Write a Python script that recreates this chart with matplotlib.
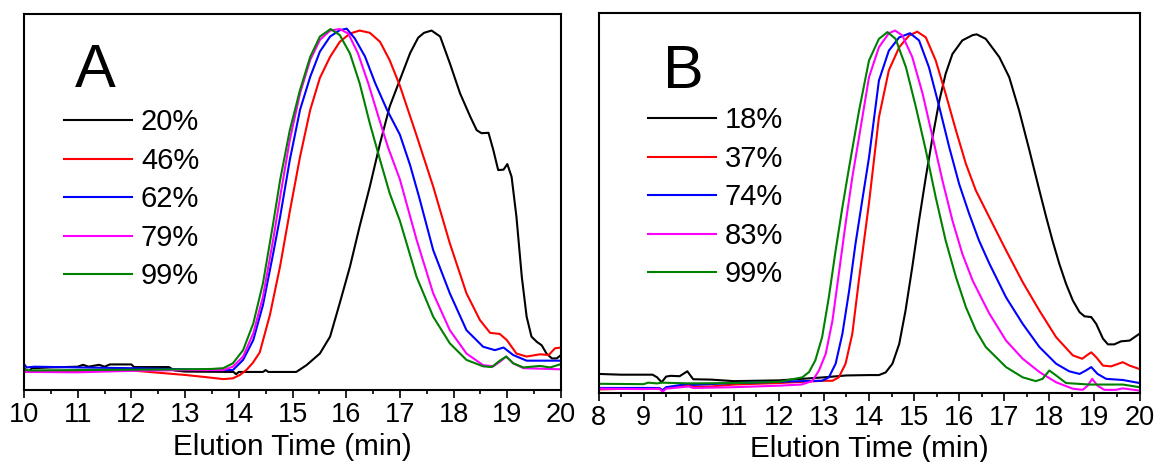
import matplotlib
matplotlib.use("Agg")
import matplotlib.pyplot as plt
from matplotlib.ticker import MultipleLocator

plt.rcParams['font.family'] = ['Liberation Sans', 'DejaVu Sans']

# ---------------- Panel A data (elution time in min, normalized intensity) ----------------
A_labels = ["20%", "46%", "62%", "79%", "99%"]

A_t_20 = [10.0, 10.08, 10.15, 10.5, 11.0, 11.1, 11.2, 11.4, 11.5, 11.6, 12.0, 12.05, 12.7, 12.8, 13.0,
          13.9, 13.95, 14.0, 14.45, 14.5, 14.55, 15.07, 15.26, 15.51, 15.70, 15.88, 16.07, 16.25, 16.44,
          16.63, 16.81, 17.00, 17.19, 17.34, 17.45, 17.59, 17.75, 17.93, 18.12, 18.31, 18.43, 18.52,
          18.65, 18.74, 18.83, 18.93, 19.00, 19.08, 19.17, 19.27, 19.36, 19.45, 19.55, 19.64, 19.73,
          19.83, 19.92, 20.0]
A_v_20 = [0.058, 0.048, 0.058, 0.060, 0.062, 0.067, 0.062, 0.067, 0.062, 0.068, 0.068, 0.061, 0.061,
          0.052, 0.049, 0.048, 0.042, 0.048, 0.048, 0.053, 0.048, 0.048, 0.066, 0.097, 0.142, 0.231,
          0.328, 0.435, 0.541, 0.656, 0.754, 0.825, 0.896, 0.937, 0.950, 0.956, 0.940, 0.869, 0.789,
          0.727, 0.691, 0.683, 0.684, 0.638, 0.585, 0.586, 0.601, 0.567, 0.461, 0.301, 0.195, 0.142,
          0.128, 0.119, 0.097, 0.084, 0.084, 0.093]

A_t_46 = [10.0, 11.0, 12.0, 12.5, 13.0, 13.4, 13.71, 13.89, 14.02, 14.14, 14.26, 14.39, 14.58, 14.77,
          14.95, 15.14, 15.33, 15.51, 15.70, 15.88, 16.07, 16.25, 16.44, 16.63, 16.81, 17.00, 17.31,
          17.62, 17.93, 18.24, 18.49, 18.68, 18.86, 18.99, 19.17, 19.36, 19.61, 19.77, 19.89, 20.0]
A_v_46 = [0.048, 0.050, 0.052, 0.046, 0.040, 0.034, 0.029, 0.031, 0.040, 0.053, 0.072, 0.100, 0.200,
          0.330, 0.475, 0.620, 0.745, 0.830, 0.886, 0.926, 0.948, 0.956, 0.950, 0.926, 0.877, 0.809,
          0.677, 0.541, 0.390, 0.257, 0.186, 0.152, 0.149, 0.133, 0.097, 0.089, 0.095, 0.093, 0.111,
          0.113]

A_t_62 = [10.0, 10.05, 10.2, 11.0, 12.0, 13.0, 13.5, 13.89, 14.08, 14.27, 14.45, 14.64, 14.77, 14.95,
          15.14, 15.33, 15.51, 15.70, 15.88, 16.01, 16.16, 16.35, 16.54, 16.76, 17.00, 17.19, 17.36,
          17.62, 17.93, 18.24, 18.55, 18.77, 18.93, 19.11, 19.36, 20.0]
A_v_62 = [0.069, 0.060, 0.062, 0.060, 0.058, 0.055, 0.053, 0.053, 0.080, 0.133, 0.226, 0.363, 0.461,
          0.612, 0.745, 0.833, 0.900, 0.940, 0.957, 0.961, 0.935, 0.887, 0.816, 0.745, 0.679, 0.598,
          0.512, 0.372, 0.257, 0.159, 0.115, 0.106, 0.113, 0.093, 0.078, 0.078]

A_t_79 = [10.0, 10.05, 11.0, 12.0, 13.0, 13.5, 13.71, 13.89, 14.08, 14.27, 14.45, 14.64, 14.77, 14.95,
          15.14, 15.33, 15.51, 15.70, 15.88, 16.04, 16.22, 16.41, 16.60, 16.78, 17.00, 17.31, 17.62,
          17.93, 18.24, 18.55, 18.74, 18.86, 18.98, 19.11, 19.30, 20.0]
A_v_79 = [0.055, 0.048, 0.047, 0.051, 0.053, 0.053, 0.053, 0.062, 0.089, 0.151, 0.248, 0.400, 0.514,
          0.665, 0.789, 0.878, 0.931, 0.956, 0.960, 0.948, 0.895, 0.816, 0.727, 0.645, 0.560, 0.400,
          0.257, 0.159, 0.097, 0.066, 0.063, 0.075, 0.089, 0.071, 0.058, 0.055]

A_t_99 = [10.0, 10.1, 11.0, 12.0, 13.0, 13.5, 13.71, 13.89, 14.08, 14.27, 14.45, 14.64, 14.77, 14.95,
          15.14, 15.33, 15.51, 15.71, 15.88, 16.07, 16.25, 16.44, 16.63, 16.81, 17.00, 17.31, 17.62,
          17.93, 18.24, 18.55, 18.71, 18.86, 18.98, 19.11, 19.30, 19.61, 19.80, 20.0]
A_v_99 = [0.055, 0.052, 0.053, 0.054, 0.055, 0.056, 0.058, 0.071, 0.106, 0.177, 0.284, 0.443, 0.559,
          0.691, 0.798, 0.886, 0.940, 0.960, 0.944, 0.895, 0.816, 0.709, 0.612, 0.523, 0.450, 0.301,
          0.195, 0.124, 0.080, 0.063, 0.061, 0.078, 0.089, 0.071, 0.060, 0.064, 0.060, 0.069]

# ---------------- Panel B data ----------------
B_labels = ["18%", "37%", "74%", "83%", "99%"]

B_t_18 = [8.0, 8.5, 9.0, 9.2, 9.3, 9.4, 9.5, 9.6, 9.8, 9.97, 10.1, 10.5, 11.0, 12.0, 12.5, 13.0, 13.5,
          14.0, 14.22, 14.37, 14.52, 14.67, 14.81, 14.96, 15.11, 15.26, 15.41, 15.56, 15.70, 15.85,
          16.07, 16.30, 16.39, 16.59, 16.89, 17.11, 17.33, 17.56, 17.78, 17.93, 18.07, 18.22, 18.37,
          18.52, 18.67, 18.78, 18.93, 19.04, 19.19, 19.30, 19.44, 19.59, 19.78, 20.0]
B_v_18 = [0.049, 0.047, 0.047, 0.047, 0.040, 0.027, 0.042, 0.044, 0.043, 0.056, 0.035, 0.034, 0.030,
          0.032, 0.036, 0.040, 0.045, 0.046, 0.046, 0.053, 0.076, 0.128, 0.216, 0.331, 0.454, 0.568,
          0.674, 0.770, 0.841, 0.893, 0.929, 0.943, 0.945, 0.933, 0.885, 0.832, 0.744, 0.638, 0.533,
          0.463, 0.401, 0.340, 0.287, 0.243, 0.212, 0.201, 0.199, 0.181, 0.142, 0.127, 0.127, 0.135,
          0.137, 0.155]

B_t_37 = [8.0, 9.0, 9.35, 9.42, 9.5, 10.0, 10.1, 10.5, 11.0, 12.0, 12.5, 13.0, 13.19, 13.33, 13.48,
          13.63, 13.78, 14.0, 14.22, 14.44, 14.67, 14.89, 15.07, 15.26, 15.48, 15.70, 15.93, 16.15,
          16.37, 16.67, 17.04, 17.41, 17.78, 18.15, 18.52, 18.73, 18.83, 18.93, 19.04, 19.19, 19.37,
          19.63, 19.78, 20.0]
B_v_37 = [0.008, 0.011, 0.010, 0.004, 0.012, 0.019, 0.015, 0.016, 0.021, 0.025, 0.028, 0.031, 0.031,
          0.040, 0.076, 0.155, 0.300, 0.500, 0.726, 0.850, 0.911, 0.942, 0.952, 0.937, 0.876, 0.788,
          0.691, 0.603, 0.533, 0.462, 0.375, 0.291, 0.216, 0.146, 0.098, 0.089, 0.098, 0.106, 0.093,
          0.071, 0.069, 0.080, 0.071, 0.062]

B_t_74 = [8.0, 9.0, 9.35, 9.42, 9.5, 10.0, 10.1, 11.0, 12.0, 12.5, 12.96, 13.11, 13.26, 13.41, 13.56,
          13.70, 13.85, 14.0, 14.22, 14.44, 14.67, 14.91, 15.11, 15.33, 15.56, 15.78, 16.0, 16.22,
          16.44, 16.67, 17.04, 17.41, 17.78, 18.15, 18.44, 18.67, 18.81, 18.93, 19.07, 19.26, 19.63,
          20.0]
B_v_74 = [0.012, 0.012, 0.012, 0.006, 0.014, 0.023, 0.020, 0.025, 0.028, 0.030, 0.031, 0.040, 0.076,
          0.155, 0.269, 0.392, 0.507, 0.620, 0.823, 0.902, 0.937, 0.948, 0.929, 0.858, 0.753, 0.647,
          0.550, 0.472, 0.401, 0.340, 0.251, 0.181, 0.120, 0.076, 0.056, 0.049, 0.058, 0.067, 0.049,
          0.036, 0.033, 0.025]

B_t_83 = [8.0, 9.0, 9.35, 9.42, 9.5, 10.0, 10.1, 11.0, 12.0, 12.5, 12.74, 12.89, 13.04, 13.19, 13.33,
          13.48, 13.63, 13.78, 14.0, 14.22, 14.44, 14.58, 14.74, 14.96, 15.19, 15.41, 15.63, 15.85,
          16.07, 16.30, 16.52, 16.67, 17.04, 17.41, 17.78, 18.15, 18.52, 18.74, 18.85, 18.95, 19.07,
          19.22, 19.48, 19.63, 20.0]
B_v_83 = [0.010, 0.009, 0.010, 0.002, 0.010, 0.016, 0.012, 0.014, 0.018, 0.021, 0.030, 0.058, 0.102,
          0.190, 0.313, 0.445, 0.568, 0.674, 0.832, 0.911, 0.948, 0.955, 0.942, 0.885, 0.788, 0.674,
          0.559, 0.454, 0.366, 0.295, 0.243, 0.208, 0.137, 0.089, 0.054, 0.027, 0.010, 0.007, 0.018,
          0.036, 0.018, 0.007, 0.007, 0.011, 0.005]

B_t_99 = [8.0, 9.0, 9.1, 9.3, 9.4, 10.0, 11.0, 12.0, 12.52, 12.67, 12.81, 12.96, 13.11, 13.26, 13.41,
          13.56, 13.78, 14.0, 14.22, 14.41, 14.59, 14.82, 15.04, 15.26, 15.48, 15.70, 15.93, 16.15,
          16.37, 16.59, 17.04, 17.41, 17.70, 17.85, 18.0, 18.15, 18.37, 18.89, 19.63, 20.0]
B_v_99 = [0.023, 0.022, 0.026, 0.024, 0.026, 0.024, 0.025, 0.028, 0.040, 0.054, 0.085, 0.146, 0.252,
          0.375, 0.489, 0.595, 0.744, 0.876, 0.933, 0.951, 0.933, 0.858, 0.753, 0.639, 0.515, 0.401,
          0.304, 0.225, 0.164, 0.120, 0.067, 0.040, 0.030, 0.036, 0.058, 0.045, 0.025, 0.021, 0.021,
          0.014]

colors = ["#000000", "#ff0000", "#0000ff", "#ff00ff", "#008000"]

A_series = [(A_t_20, A_v_20), (A_t_46, A_v_46), (A_t_62, A_v_62), (A_t_79, A_v_79), (A_t_99, A_v_99)]
B_series = [(B_t_18, B_v_18), (B_t_37, B_v_37), (B_t_74, B_v_74), (B_t_83, B_v_83), (B_t_99, B_v_99)]

W, H = 1160, 462
fig = plt.figure(figsize=(W / 100, H / 100), dpi=100)

axA = fig.add_axes([24 / W, (H - 390) / H, 537 / W, 376 / H])
axB = fig.add_axes([598.5 / W, (H - 392.5) / H, 541 / W, 379 / H])


def style(ax, xmin, xmax, series, labels, letter, letter_xy, leg_xy):
    for (t, v), c, lab in zip(series, colors, labels):
        ax.plot(t, v, color=c, lw=1.5, label=lab)
    ax.set_xlim(xmin, xmax)
    ax.set_ylim(0, 1)
    ax.xaxis.set_major_locator(MultipleLocator(1))
    ax.xaxis.set_minor_locator(MultipleLocator(0.5))
    ax.set_yticks([])
    ax.tick_params(axis='x', which='major', direction='out', length=6, width=1.2,
                   labelsize=19.5, pad=3)
    ax.tick_params(axis='x', which='minor', direction='out', length=3, width=1.2)
    for s in ax.spines.values():
        s.set_linewidth(1.5)
    ax.set_xlabel("Elution Time (min)", fontsize=21.3, labelpad=3)
    ax.text(letter_xy[0], letter_xy[1], letter, transform=ax.transAxes, fontsize=44,
            ha='left', va='baseline')
    ax.legend(loc='upper left', bbox_to_anchor=leg_xy, frameon=False, fontsize=21,
              handlelength=2.33, handletextpad=0.3, labelspacing=0.36,
              borderaxespad=0, borderpad=0)


style(axA, 10, 20, A_series, A_labels, "A", (0.095, 0.807), (0.075, 0.749))
style(axB, 8, 20, B_series, B_labels, "B", (0.119, 0.803), (0.091, 0.755))

fig.savefig("out.png", dpi=100)
